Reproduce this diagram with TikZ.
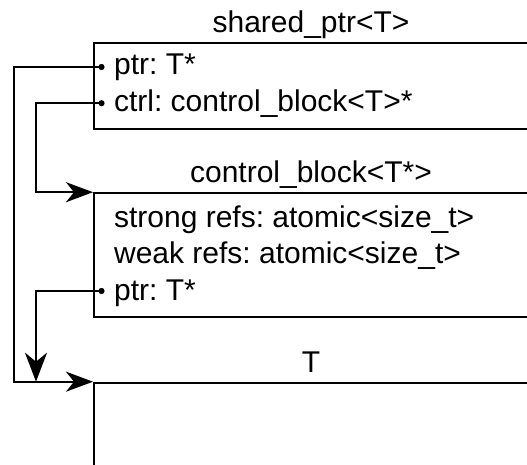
\documentclass[tikz,border=0pt]{standalone}
\usepackage{fontspec}
\setmainfont{Liberation Sans}
\usetikzlibrary{arrows.meta}
\frenchspacing
\begin{document}
\begin{tikzpicture}[x=1pt,y=-1pt,line width=2.2pt,
  box/.style={draw,line width=2.2pt,anchor=north west,minimum width=450pt,inner sep=0pt},
  title/.style={anchor=base,font=\fontsize{30}{36}\selectfont,inner sep=0pt},
  field/.style={anchor=base west,font=\fontsize{30}{36}\selectfont,inner sep=0pt},
  tip/.style={-{Stealth[length=27pt,width=20pt,inset=8pt]}},
  vtip/.style={-{Stealth[length=29pt,width=22pt,inset=9pt]}},
  dotmark/.style={circle,fill,inner sep=0pt,minimum size=6.2pt}]
\clip (0,0) rectangle (527,465);
% boxes
\node[box,minimum height=86pt] (sp) at (93,41.7) {};
\node[box,minimum height=123.5pt] (cb) at (93,192.2) {};
\node[box,minimum height=200pt] (tb) at (93,381.7) {};
% titles
\node[title] (spt) at (311,32.3) {shared\_ptr<T>};
\node[title] (cbt) at (311,182.5) {control\_block<T*>};
\node[title] (tbt) at (311,372.3) {T};
% fields
\node[field] (f1) at (113,75) {ptr: T*};
\node[field] (f2) at (113,111.7) {ctrl: control\_block<T>*};
\node[field] (f3) at (113,227.3) {strong refs: atomic<size\_t>};
\node[field] (f4) at (113,263.5) {weak refs: atomic<size\_t>};
\node[field] (f5) at (113,300) {ptr: T*};
% dots
\node[dotmark] (d1) at (101.5,67) {};
\node[dotmark] (d2) at (101.5,103.2) {};
\node[dotmark] (d3) at (101.5,291) {};
\coordinate (j) at (36,381.7);
% connectors
\draw[tip] (d1.center) -- ++(-87.5,0) |- (tb.north west);
\draw[tip] (d2.center) -- ++(-65.5,0) |- (cb.north west);
\draw[vtip] (d3.center) -| (j);
\end{tikzpicture}
\end{document}
